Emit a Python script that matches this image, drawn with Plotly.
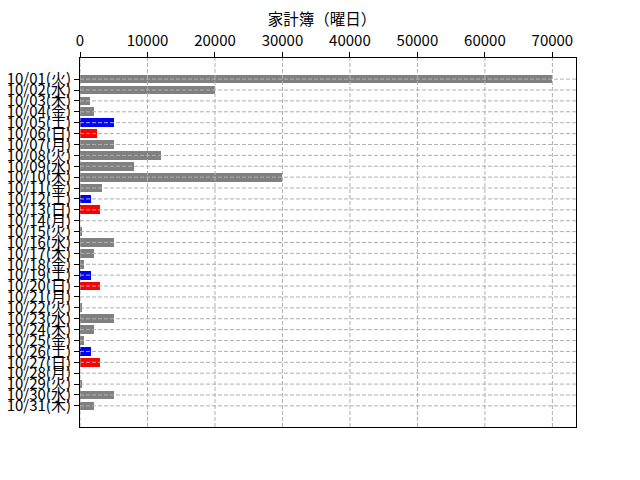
import plotly.graph_objects as go

dates = ["10/01(火)", "10/02(水)", "10/03(木)", "10/04(金)", "10/05(土)", "10/06(日)",
         "10/07(月)", "10/08(火)", "10/09(水)", "10/10(木)", "10/11(金)", "10/12(土)",
         "10/13(日)", "10/14(月)", "10/15(火)", "10/16(水)", "10/17(木)", "10/18(金)",
         "10/19(土)", "10/20(日)", "10/21(月)", "10/22(火)", "10/23(水)", "10/24(木)",
         "10/25(金)", "10/26(土)", "10/27(日)", "10/28(月)", "10/29(火)", "10/30(水)",
         "10/31(木)"]
amounts = [70000, 20000, 1500, 2000, 5000, 2500,
           5000, 12000, 8000, 30000, 3200, 1700,
           3000, 0, 300, 5000, 2000, 600,
           1700, 3000, 0, 300, 5000, 2000,
           600, 1700, 3000, 0, 300, 5000,
           2000]
x_ticks = [0, 10000, 20000, 30000, 40000, 50000, 60000, 70000]
title_text = "家計簿（曜日）"

def day_color(label):
    if "土" in label:
        return "#0000ff"
    if "日" in label:
        return "#ff0000"
    return "#808080"

colors = [day_color(d) for d in dates]
idx = list(range(len(dates)))

fig = go.Figure()
fig.add_trace(go.Bar(x=amounts, y=idx, orientation="h", width=0.8,
                     marker=dict(color=colors, line=dict(width=0)),
                     hoverinfo="skip"))

FONT = "Noto Sans CJK JP, sans-serif"
shapes = []
for xv in x_ticks:
    shapes.append(dict(type="line", xref="x", yref="paper", x0=xv, x1=xv, y0=0, y1=1,
                       line=dict(color="#b0b0b0", width=1, dash="4px,2px"), layer="above"))
for yv in idx:
    shapes.append(dict(type="line", xref="paper", yref="y", x0=0, x1=1, y0=yv, y1=yv,
                       line=dict(color="#b0b0b0", width=1, dash="4px,2px"), layer="above"))

xmax = max(amounts) * 1.05
n = len(dates)
pad = (n - 1 + 0.8) * 0.05
fig.update_layout(
    width=640, height=480,
    margin=dict(l=80, r=64, t=58, b=53),
    paper_bgcolor="white", plot_bgcolor="white",
    showlegend=False,
    bargap=0,
    shapes=shapes,
    font=dict(family=FONT, size=15, color="black"),
    title=dict(text=title_text, x=0.488, xref="paper", xanchor="center",
               y=1 - 20 / 480, yref="container", yanchor="middle",
               font=dict(family=FONT, size=15.5, color="black")),
    xaxis=dict(side="top", range=[0, xmax], tickvals=x_ticks,
               ticktext=[str(v) for v in x_ticks], automargin=False,
               showgrid=False, zeroline=False,
               showline=True, mirror=True, linecolor="black", linewidth=1,
               ticks="outside", ticklen=5, tickcolor="black", tickwidth=1,
               tickfont=dict(family=FONT, size=15, color="black")),
    yaxis=dict(range=[n - 1 + 0.4 + pad, -0.4 - pad], tickvals=idx, ticktext=dates,
               automargin=False,
               showgrid=False, zeroline=False,
               showline=True, mirror=True, linecolor="black", linewidth=1,
               ticks="outside", ticklen=5, tickcolor="black", tickwidth=1,
               tickfont=dict(family=FONT, size=15, color="black")),
)

fig.write_html("out.html", config={"displayModeBar": False},
               post_script="document.body.style.margin='0px';")
